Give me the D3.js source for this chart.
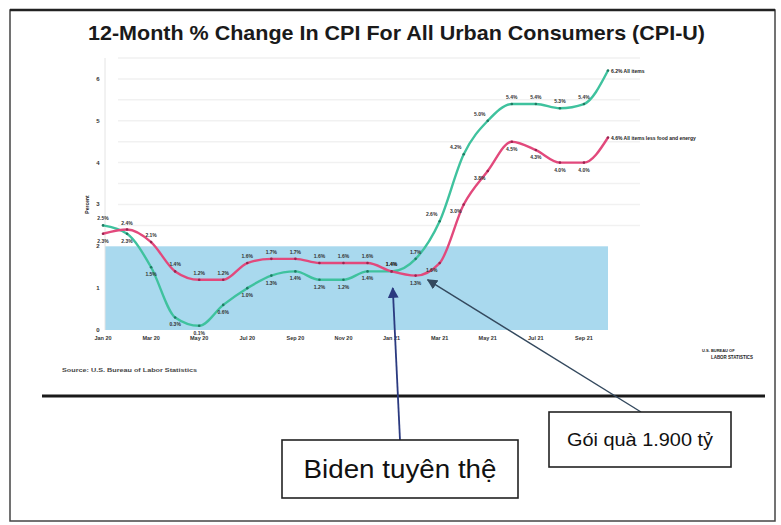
<!DOCTYPE html>
<html>
<head>
<meta charset="utf-8">
<script src="https://cdn.jsdelivr.net/npm/d3@7"></script>
<style>
  html, body { margin: 0; padding: 0; background: #fff; }
  svg { display: block; font-family: "Liberation Sans", Arial, sans-serif; }
</style>
</head>
<body>
<svg id="chart" width="781" height="525"></svg>
<script>
// ---- Data ----
const months = ["Jan 20","Feb 20","Mar 20","Apr 20","May 20","Jun 20","Jul 20","Aug 20","Sep 20","Oct 20","Nov 20","Dec 20",
                "Jan 21","Feb 21","Mar 21","Apr 21","May 21","Jun 21","Jul 21","Aug 21","Sep 21","Oct 21"];
const allItems = [2.5,2.3,1.5,0.3,0.1,0.6,1.0,1.3,1.4,1.2,1.2,1.4,1.4,1.7,2.6,4.2,5.0,5.4,5.4,5.3,5.4,6.2];
const coreItems = [2.3,2.4,2.1,1.4,1.2,1.2,1.6,1.7,1.7,1.6,1.6,1.6,1.4,1.3,1.6,3.0,3.8,4.5,4.3,4.0,4.0,4.6];
const tickMonths = ["Jan 20","Mar 20","May 20","Jul 20","Sep 20","Nov 20","Jan 21","Mar 21","May 21","Jul 21","Sep 21"];
const yTicks = [0,1,2,3,4,5,6];
const targetBand = [0, 2];
const seriesNames = ["All items", "All items less food and energy"];
const titleText = "12-Month % Change In CPI For All Urban Consumers (CPI-U)";
const sourceText = "Source: U.S. Bureau of Labor Statistics";
// annotations: [label, month index (fractional), value]
const annoBiden = ["Biden tuyên thệ", 12.05, 1.0];
const annoGift = ["Gói quà 1.900 tỷ", 13.5, 1.2];

// ---- Layout ----
const svg = d3.select("#chart");
const x = d3.scaleLinear().domain([0, months.length - 1]).range([103, 608]);
const y = d3.scaleLinear().domain([0, 6.5]).range([330, 58]);

// outer frame
svg.append("rect").attr("x", 10).attr("y", 10).attr("width", 765).attr("height", 511)
  .attr("fill", "#fff").attr("stroke", "#444").attr("stroke-width", 1.5);
svg.append("line").attr("x1", 10).attr("x2", 775).attr("y1", 10).attr("y2", 10)
  .attr("stroke", "#222").attr("stroke-width", 2.5);

// title
svg.append("text").attr("x", 88).attr("y", 40)
  .attr("font-size", 21).attr("font-weight", "bold").attr("fill", "#1a1a1a")
  .attr("textLength", 617).attr("lengthAdjust", "spacingAndGlyphs")
  .text(titleText);

// faint grid
const g = svg.append("g");
g.selectAll("line.grid").data(d3.range(2.5, 6.6, 0.5)).join("line")
  .attr("x1", 118).attr("x2", 640).attr("y1", d => y(d)).attr("y2", d => y(d))
  .attr("stroke", "#f1f1f1").attr("stroke-width", 1.5);

// target band
g.append("rect").attr("x", x(0) + 2).attr("width", x(months.length - 1) - x(0) - 2)
  .attr("y", y(targetBand[1])).attr("height", y(targetBand[0]) - y(targetBand[1]))
  .attr("fill", "#a9d9ee");

// y axis
g.append("line").attr("x1", 105).attr("x2", 105).attr("y1", y(6.5)).attr("y2", y(0))
  .attr("stroke", "#e4e4e4");
g.selectAll("text.ytick").data(yTicks).join("text")
  .attr("x", 98).attr("y", d => y(d) + 2).attr("text-anchor", "middle")
  .attr("font-size", 6).attr("font-weight", "bold").attr("fill", "#333")
  .text(d => d);
g.append("text").attr("transform", `translate(89,${y(3.0)}) rotate(-90)`)
  .attr("text-anchor", "middle").attr("font-size", 5).attr("font-weight", "bold").attr("fill", "#222")
  .text("Percent");

// x axis labels
g.selectAll("text.xtick").data(tickMonths).join("text")
  .attr("x", d => x(months.indexOf(d))).attr("y", 340).attr("text-anchor", "middle")
  .attr("font-size", 5.5).attr("font-weight", "bold").attr("fill", "#333")
  .text(d => d);

// lines
const line = d3.line().x((d, i) => x(i)).y(d => y(d)).curve(d3.curveMonotoneX);
const colors = ["#3fc29e", "#e2497c"];
[allItems, coreItems].forEach((vals, k) => {
  g.append("path").attr("d", line(vals)).attr("fill", "none")
    .attr("stroke", colors[k]).attr("stroke-width", 2.4);
  g.selectAll(null).data(vals).join("circle")
    .attr("cx", (d, i) => x(i)).attr("cy", d => y(d)).attr("r", 1.3)
    .attr("fill", k === 0 ? "#1f7a62" : "#9a2450");
});

// data labels
function labelPos(i, k) {
  const a = allItems[i], c = coreItems[i];
  const mine = k === 0 ? a : c, other = k === 0 ? c : a;
  const above = mine >= other;
  return { dx: x(i) - (i >= 14 && i <= 16 ? 8 : 0), dy: y(mine) + (above ? -5 : 9) };
}
[allItems, coreItems].forEach((vals, k) => {
  g.selectAll(null).data(vals.slice(0, -1)).join("text")
    .attr("x", (d, i) => labelPos(i, k).dx).attr("y", (d, i) => labelPos(i, k).dy)
    .attr("text-anchor", "middle").attr("font-size", 5).attr("font-weight", "bold")
    .attr("fill", "#333").text(d => d.toFixed(1) + "%");
});
// end labels
const last = months.length - 1;
g.append("text").attr("x", x(last) + 3).attr("y", y(allItems[last]) + 2)
  .attr("font-size", 5).attr("font-weight", "bold").attr("fill", "#222")
  .text(allItems[last].toFixed(1) + "% " + seriesNames[0]);
g.append("text").attr("x", x(last) + 3).attr("y", y(coreItems[last]) + 2)
  .attr("font-size", 5).attr("font-weight", "bold").attr("fill", "#222")
  .text(coreItems[last].toFixed(1) + "% " + seriesNames[1]);

// source + logo
svg.append("text").attr("x", 62).attr("y", 372).attr("font-size", 5.5)
  .attr("font-weight", "bold").attr("fill", "#444")
  .attr("textLength", 135).attr("lengthAdjust", "spacingAndGlyphs").text(sourceText);
svg.append("text").attr("x", 702).attr("y", 352).attr("font-size", 4)
  .attr("font-weight", "bold").attr("fill", "#222").text("U.S. BUREAU OF");
svg.append("text").attr("x", 711).attr("y", 359).attr("font-size", 4.8)
  .attr("font-weight", "bold").attr("fill", "#222")
  .attr("textLength", 42).attr("lengthAdjust", "spacingAndGlyphs").text("LABOR STATISTICS");

// separator
svg.append("line").attr("x1", 42).attr("x2", 765).attr("y1", 396).attr("y2", 396)
  .attr("stroke", "#1a1a1a").attr("stroke-width", 3);

// arrows
const defs = svg.append("defs");
function marker(id, color, size) {
  defs.append("marker").attr("id", id).attr("viewBox", "0 0 10 10")
    .attr("refX", 9).attr("refY", 5).attr("markerWidth", size).attr("markerHeight", size)
    .attr("markerUnits", "strokeWidth").attr("orient", "auto")
    .append("path").attr("d", "M0,0 L10,5 L0,10 z").attr("fill", color);
}
marker("ah1", "#2b3a80", 6);
marker("ah2", "#34495e", 7.5);

const bidenBox = { x: 282, y: 440, w: 236, h: 58 };
const giftBox = { x: 549, y: 412, w: 182, h: 55 };

svg.append("line").attr("x1", 400).attr("y1", bidenBox.y)
  .attr("x2", x(annoBiden[1])).attr("y2", y(annoBiden[2]))
  .attr("stroke", "#2b3a80").attr("stroke-width", 1.8).attr("marker-end", "url(#ah1)");
svg.append("line").attr("x1", 641).attr("y1", giftBox.y)
  .attr("x2", x(annoGift[1])).attr("y2", y(annoGift[2]))
  .attr("stroke", "#34495e").attr("stroke-width", 1.4).attr("marker-end", "url(#ah2)");

// annotation boxes
[[bidenBox, annoBiden[0], 25, 193], [giftBox, annoGift[0], 18, 146]].forEach(([b, t, fs, tl]) => {
  svg.append("rect").attr("x", b.x).attr("y", b.y).attr("width", b.w).attr("height", b.h)
    .attr("fill", "#fff").attr("stroke", "#222").attr("stroke-width", 1.6);
  svg.append("text").attr("x", b.x + (b.w - tl) / 2).attr("y", b.y + b.h / 2 + fs * 0.36)
    .attr("font-size", fs).attr("fill", "#111")
    .attr("textLength", tl).attr("lengthAdjust", "spacingAndGlyphs")
    .text(t);
});
</script>
</body>
</html>
